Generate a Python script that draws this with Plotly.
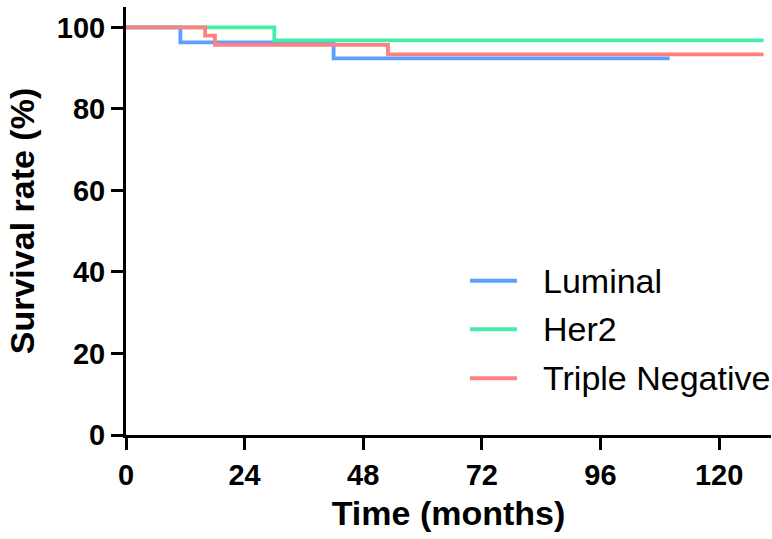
import plotly.graph_objects as go

# Kaplan-Meier step data (months, survival %)
luminal_t = [0, 11, 42, 110]
luminal_s = [100, 96.3, 92.4, 92.4]

her2_t = [0, 30, 129]
her2_s = [100, 96.8, 96.8]

tn_t = [0, 16, 18, 53, 129]
tn_s = [100, 98.0, 95.7, 93.4, 93.4]

group_names = ["Luminal", "Her2", "Triple Negative"]
group_colors = ["#5BA0FF", "#45EDA9", "#FF8080"]

x_ticks = [0, 24, 48, 72, 96, 120]
y_ticks = [0, 20, 40, 60, 80, 100]

FONT = "Liberation Sans, Arial, sans-serif"

fig = go.Figure()
for t, s, name, color in zip([luminal_t, her2_t, tn_t],
                             [luminal_s, her2_s, tn_s],
                             group_names, group_colors):
    fig.add_trace(go.Scatter(
        x=t, y=s, mode="lines", name=name,
        line=dict(color=color, width=3.8, shape="hv"),
        showlegend=False, cliponaxis=False,
    ))

# Legend drawn as short line samples with labels
leg_y = [0.3605, 0.2470, 0.1325]
for name, color, yy in zip(group_names, group_colors, leg_y):
    fig.add_shape(type="line", xref="paper", yref="paper",
                  x0=0.5333, x1=0.6062, y0=yy, y1=yy,
                  line=dict(color=color, width=4))
    fig.add_annotation(xref="paper", yref="paper", x=0.6430, y=yy,
                       xanchor="left", yanchor="middle", text=name,
                       showarrow=False,
                       font=dict(family=FONT, size=34, color="#000000"))

axis_common = dict(
    showline=True, linecolor="#000000", linewidth=3,
    ticks="outside", ticklen=12, tickwidth=3, tickcolor="#000000",
    showgrid=False, zeroline=False,
    tickfont=dict(family=FONT, size=29, color="#000000", weight="bold"),
    title_font=dict(family=FONT, size=34, color="#000000", weight="bold"),
)

fig.update_xaxes(range=[0, 130.5], tickvals=x_ticks,
                 title_text="Time (months)", title_standoff=12,
                 **axis_common)
fig.update_yaxes(range=[0, 105], tickvals=y_ticks,
                 title_text="Survival rate (%)", title_standoff=12,
                 **axis_common)

fig.update_layout(
    width=772, height=539,
    margin=dict(l=126, r=1, t=7, b=104, autoexpand=False),
    paper_bgcolor="#FFFFFF", plot_bgcolor="#FFFFFF",
    font=dict(family=FONT, color="#000000"),
)

fig.write_html("out.html")
